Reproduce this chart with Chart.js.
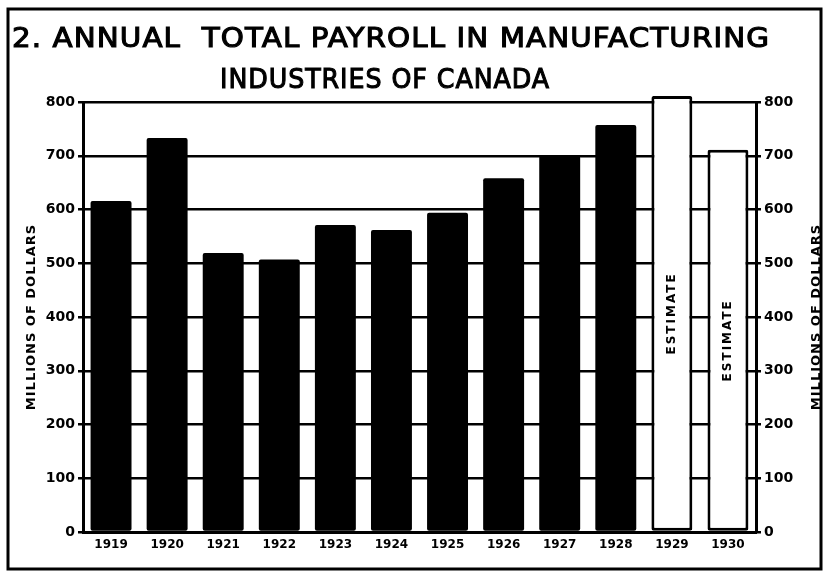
<!DOCTYPE html>
<html lang="en">
<head>
<meta charset="UTF-8">
<title>Annual Total Payroll in Manufacturing Industries of Canada</title>
<script src="https://cdn.jsdelivr.net/npm/chart.js"></script>
<style>
    html, body { margin: 0; padding: 0; background: #fff; }
    #payrollChart { display: block; }
</style>
</head>
<body>
<canvas id="payrollChart" width="826" height="577"></canvas>
<script>
// values (millions of dollars)
const years = ['1919', '1920', '1921', '1922', '1923', '1924', '1925', '1926', '1927', '1928', '1929', '1930'];
const payroll = [616, 733, 519, 507, 571, 562, 594, 658, 700, 757, 811, 711];
const estimated = [false, false, false, false, false, false, false, false, false, false, true, true];
const yMin = 0;
const yMax = 800;
const yStep = 100;
const titleLines = ['2. ANNUAL  TOTAL PAYROLL IN MANUFACTURING', 'INDUSTRIES OF CANADA'];
const axisTitle = 'MILLIONS OF DOLLARS';
const estimateLabel = 'ESTIMATE';

const FONT = "'DejaVu Sans', sans-serif";

// stretch a line of text so it fills the same span as in the scan
// (a thin stroke on top gives the heavier hand-lettered look)
function fitText(ctx, text, x0, x1, baseline) {
    ctx.save();
    const w = ctx.measureText(text).width;
    ctx.translate(x0, baseline);
    ctx.scale((x1 - x0) / w, 1);
    ctx.textBaseline = 'alphabetic';
    ctx.textAlign = 'left';
    ctx.fillText(text, 0, 0);
    ctx.lineWidth = 1.1;
    ctx.strokeText(text, 0, 0);
    ctx.restore();
}

function verticalText(ctx, text, x, y) {
    ctx.save();
    ctx.translate(x, y);
    ctx.rotate(-Math.PI / 2);
    ctx.textAlign = 'center';
    ctx.textBaseline = 'middle';
    ctx.fillText(text, 0, 0);
    ctx.restore();
}

const decor = {
    id: 'decor',
    afterDraw(chart) {
        const ctx = chart.ctx;
        const area = chart.chartArea;
        ctx.save();
        ctx.fillStyle = '#000';
        ctx.strokeStyle = '#000';

        // outer frame of the plate
        ctx.lineWidth = 3;
        ctx.strokeRect(8, 9, 813, 560);

        // heading
        ctx.font = '27px ' + FONT;
        ctx.letterSpacing = '1px';
        fitText(ctx, titleLines[0], 12, 770, 47);
        fitText(ctx, titleLines[1], 220, 550, 88);

        // axis titles, both read bottom to top
        const midY = (area.top + area.bottom) / 2;
        ctx.font = 'bold 13px ' + FONT;
        ctx.letterSpacing = '1px';
        verticalText(ctx, axisTitle, 32, midY);
        verticalText(ctx, axisTitle, 817, midY);

        // "ESTIMATE" inside the hollow bars
        ctx.font = 'bold 12px ' + FONT;
        ctx.letterSpacing = '2px';
        const bars = chart.getDatasetMeta(0).data;
        estimated.forEach((isEst, i) => {
            if (!isEst) return;
            const bar = bars[i];
            verticalText(ctx, estimateLabel, bar.x, (bar.y + bar.base) / 2);
        });
        ctx.letterSpacing = '0px';
        ctx.restore();
    }
};

const tickFont = { family: FONT, weight: 'bold', size: 14 };

const ctx = document.getElementById('payrollChart').getContext('2d');
const chart = new Chart(ctx, {
    type: 'bar',
    data: {
        labels: years,
        datasets: [{
            data: payroll,
            backgroundColor: estimated.map(e => e ? '#fff' : '#000'),
            borderColor: '#000',
            borderWidth: estimated.map(e => e ? 3 : 0),
            borderRadius: 2,
            borderSkipped: false,
            barPercentage: 0.73,
            categoryPercentage: 1,
            clip: false
        }]
    },
    options: {
        responsive: false,
        animation: false,
        devicePixelRatio: 1,
        layout: { padding: { top: 102, left: 0, right: 0, bottom: 0 } },
        plugins: {
            legend: { display: false },
            title: { display: false },
            tooltip: { enabled: false }
        },
        scales: {
            x: {
                grid: { display: false, drawTicks: false },
                border: { display: true, color: '#000', width: 3 },
                ticks: {
                    color: '#000',
                    font: { family: FONT, weight: 'bold', size: 12 },
                    padding: 6,
                    maxRotation: 0,
                    autoSkip: false
                },
                afterFit: s => { s.height = 45; }
            },
            y: {
                position: 'left',
                min: yMin,
                max: yMax,
                ticks: { stepSize: yStep, color: '#000', font: tickFont, padding: 3 },
                grid: { color: '#000', lineWidth: 2.5, tickLength: 5 },
                border: { color: '#000', width: 3 },
                afterFit: s => { s.width = 83; }
            },
            y1: {
                position: 'right',
                min: yMin,
                max: yMax,
                ticks: { stepSize: yStep, color: '#000', font: tickFont, padding: 3 },
                grid: { drawOnChartArea: false, color: '#000', lineWidth: 2.5, tickLength: 5 },
                border: { color: '#000', width: 3 },
                afterFit: s => { s.width = 70; }
            }
        }
    },
    plugins: [decor]
});
</script>
</body>
</html>
